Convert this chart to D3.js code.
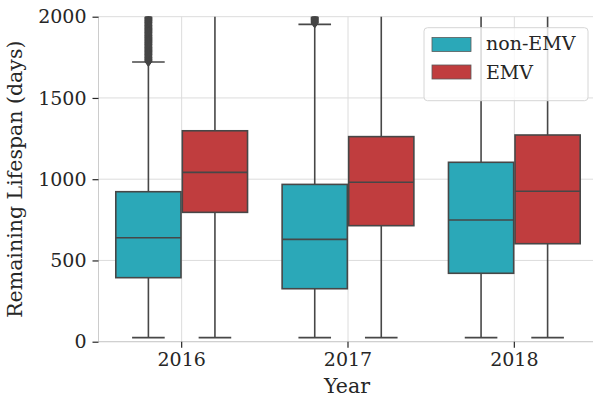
<!DOCTYPE html>
<html>
<head>
<meta charset="utf-8">
<script src="https://cdn.jsdelivr.net/npm/d3@7"></script>
<style>
  html, body { margin: 0; padding: 0; background: #ffffff; }
  svg { display: block; }
  text { font-family: "DejaVu Serif", serif; fill: #262626; }
</style>
</head>
<body>
<svg id="chart" width="593" height="400"></svg>
<script>
// Years on the x axis and the two vehicle groups
const years = ["2016", "2017", "2018"];
const groups = ["non-EMV", "EMV"];
const groupColors = ["#2ba8b8", "#c03d3e"];
const yTicks = [0, 500, 1000, 1500, 2000];

// Box statistics per year (index order follows `years`)
const nonEmvQ1 = [394, 326, 421];
const nonEmvMedian = [640, 630, 749];
const nonEmvQ3 = [923, 968, 1104];
const nonEmvLow = [25, 25, 25];
const nonEmvHigh = [1721, 1953, 2128];

const emvQ1 = [796, 714, 603];
const emvMedian = [1042, 981, 926];
const emvQ3 = [1298, 1262, 1272];
const emvLow = [25, 25, 25];
const emvHigh = [2051, 2084, 2275];

// Outlying observations above the upper whisker
const nonEmvOutliers2016 = [1725, 1729, 1736, 1741, 1747, 1752, 1758, 1764, 1769, 1775, 1781, 1786, 1792, 1797,
  1803, 1809, 1814, 1820, 1826, 1831, 1837, 1842, 1848, 1854, 1859, 1865, 1871, 1876, 1882, 1887,
  1893, 1899, 1904, 1910, 1916, 1921, 1927, 1932, 1938, 1944, 1949, 1955, 1961, 1966, 1972, 1977,
  1983, 1989, 1994, 2000, 2008, 2019, 2031];
const nonEmvOutliers2017 = [1962, 1967, 1972, 1978, 1983, 1989, 1994, 2000, 2011, 2025];
const nonEmvOutliers2018 = [];
const emvOutliers = [[], [], []];

const rows = [];
years.forEach((yr, i) => {
  rows.push({year: yr, group: "non-EMV", q1: nonEmvQ1[i], med: nonEmvMedian[i], q3: nonEmvQ3[i],
             lo: nonEmvLow[i], hi: nonEmvHigh[i],
             out: [nonEmvOutliers2016, nonEmvOutliers2017, nonEmvOutliers2018][i]});
  rows.push({year: yr, group: "EMV", q1: emvQ1[i], med: emvMedian[i], q3: emvQ3[i],
             lo: emvLow[i], hi: emvHigh[i], out: emvOutliers[i]});
});

const svg = d3.select("#chart");
const plotLeft = 98.5, plotRight = 597.5, plotTop = 16.7, plotBottom = 341.7;

const x = d3.scaleBand().domain(years).range([plotLeft, plotRight]).padding(0);
const hue = d3.scaleBand().domain(groups).range([0.1 * x.bandwidth(), 0.9 * x.bandwidth()]);
const color = d3.scaleOrdinal().domain(groups).range(groupColors);
const y = d3.scaleLinear().domain([0, 2000]).range([plotBottom, plotTop]);

const boxW = hue.bandwidth() * 0.98;
const cx = d => x(d.year) + hue(d.group) + hue.bandwidth() / 2;

svg.append("defs").append("clipPath").attr("id", "plot-clip")
  .append("rect").attr("x", plotLeft).attr("y", plotTop)
  .attr("width", plotRight - plotLeft).attr("height", plotBottom - plotTop);

// Grid
const grid = svg.append("g");
grid.selectAll("line.hg").data(yTicks).join("line")
  .attr("x1", plotLeft).attr("x2", plotRight)
  .attr("y1", d => y(d)).attr("y2", d => y(d))
  .attr("stroke", "#dcdcdc").attr("stroke-width", 1);
grid.selectAll("line.vg").data(years).join("line")
  .attr("x1", d => x(d) + x.bandwidth() / 2).attr("x2", d => x(d) + x.bandwidth() / 2)
  .attr("y1", plotTop).attr("y2", plotBottom)
  .attr("stroke", "#dcdcdc").attr("stroke-width", 1);

// Spines (left and bottom)
svg.append("line").attr("x1", plotLeft).attr("x2", plotLeft).attr("y1", plotTop).attr("y2", plotBottom)
  .attr("stroke", "#cccccc").attr("stroke-width", 1);
svg.append("line").attr("x1", plotLeft).attr("x2", plotRight).attr("y1", plotBottom).attr("y2", plotBottom)
  .attr("stroke", "#cccccc").attr("stroke-width", 1);

// Axes
const yAxis = svg.append("g").attr("transform", `translate(${plotLeft},0)`)
  .call(d3.axisLeft(y).tickValues(yTicks).tickSize(6).tickPadding(6).tickFormat(d3.format("d")));
const xAxis = svg.append("g").attr("transform", `translate(0,${plotBottom})`)
  .call(d3.axisBottom(x).tickSize(6).tickPadding(5));
[yAxis, xAxis].forEach(a => {
  a.select(".domain").remove();
  a.selectAll(".tick line").attr("stroke", "#262626").attr("stroke-width", 1.2);
  a.selectAll(".tick text").attr("font-family", "DejaVu Serif").attr("font-size", 19).attr("fill", "#262626");
});

// Boxes
const lineCol = "#474747";
const plot = svg.append("g").attr("clip-path", "url(#plot-clip)");
const boxes = plot.selectAll("g.box").data(rows).join("g");

boxes.append("line").attr("x1", cx).attr("x2", cx)
  .attr("y1", d => y(d.q3)).attr("y2", d => y(d.hi))
  .attr("stroke", lineCol).attr("stroke-width", 1.6);
boxes.append("line").attr("x1", cx).attr("x2", cx)
  .attr("y1", d => y(d.q1)).attr("y2", d => y(d.lo))
  .attr("stroke", lineCol).attr("stroke-width", 1.6);
boxes.append("line").attr("x1", d => cx(d) - boxW / 4).attr("x2", d => cx(d) + boxW / 4)
  .attr("y1", d => y(d.hi)).attr("y2", d => y(d.hi))
  .attr("stroke", lineCol).attr("stroke-width", 1.6);
boxes.append("line").attr("x1", d => cx(d) - boxW / 4).attr("x2", d => cx(d) + boxW / 4)
  .attr("y1", d => y(d.lo)).attr("y2", d => y(d.lo))
  .attr("stroke", lineCol).attr("stroke-width", 1.6);
boxes.append("rect")
  .attr("x", d => cx(d) - boxW / 2).attr("width", boxW)
  .attr("y", d => y(d.q3)).attr("height", d => y(d.q1) - y(d.q3))
  .attr("fill", d => color(d.group)).attr("stroke", lineCol).attr("stroke-width", 1.6);
boxes.append("line").attr("x1", d => cx(d) - boxW / 2).attr("x2", d => cx(d) + boxW / 2)
  .attr("y1", d => y(d.med)).attr("y2", d => y(d.med))
  .attr("stroke", lineCol).attr("stroke-width", 1.6);

// Outlier diamonds
boxes.each(function(d) {
  d3.select(this).selectAll("path.flier").data(d.out).join("path")
    .attr("d", v => {
      const px = cx(d), py = y(v);
      return `M${px},${py - 5}L${px + 3.6},${py}L${px},${py + 5}L${px - 3.6},${py}Z`;
    })
    .attr("fill", "#454545").attr("stroke", "#454545").attr("stroke-width", 1);
});

// Axis titles
svg.append("text").attr("x", (plotLeft + plotRight) / 2 - 1).attr("y", 393)
  .attr("text-anchor", "middle").attr("font-size", 20.5).text("Year");
svg.append("text").attr("transform", `translate(22,${(plotTop + plotBottom) / 2}) rotate(-90)`)
  .attr("text-anchor", "middle").attr("font-size", 20.5).text("Remaining Lifespan (days)");

// Legend
const lg = svg.append("g");
lg.append("rect").attr("x", 424).attr("y", 27.7).attr("width", 164).attr("height", 73)
  .attr("rx", 3.5).attr("fill", "#ffffff").attr("fill-opacity", 0.8)
  .attr("stroke", "#d6d6d6").attr("stroke-width", 1);
groups.forEach((g, i) => {
  lg.append("rect").attr("x", 432).attr("y", 37.5 + i * 27.5).attr("width", 39).attr("height", 14)
    .attr("fill", color(g)).attr("stroke", "#5a5a5a").attr("stroke-width", 0.8);
  lg.append("text").attr("x", 486).attr("y", 50 + i * 28.5).attr("font-size", 19).text(g);
});
</script>
</body>
</html>
